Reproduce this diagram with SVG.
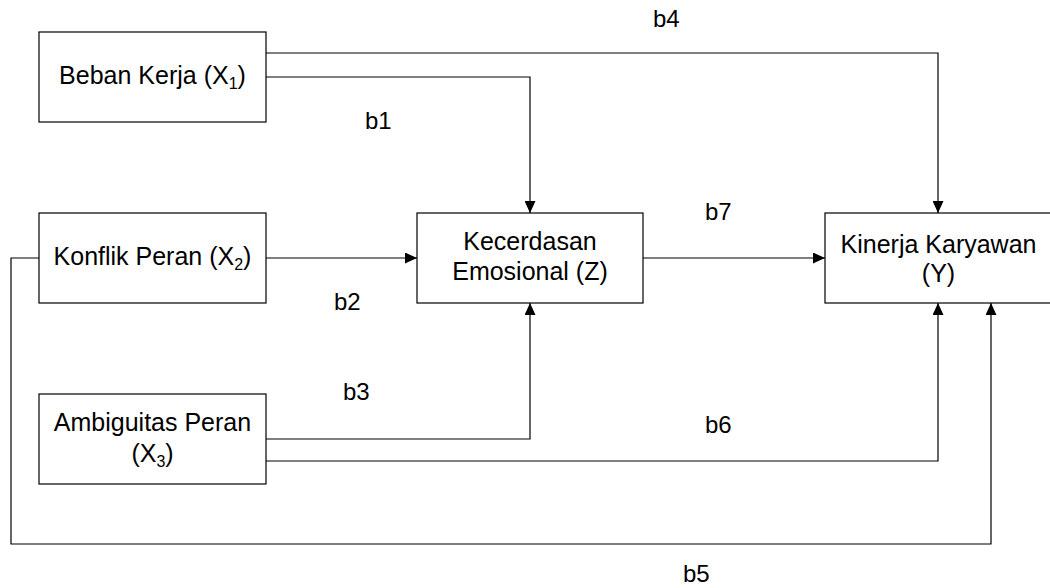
<svg xmlns="http://www.w3.org/2000/svg" width="1050" height="588" viewBox="0 0 1050 588">
  <style>
    .box { fill: #ffffff; stroke: #000000; stroke-width: 1.2; }
    .node-text { font-family: "Liberation Sans", Arial, sans-serif; font-size: 25px; fill: #000000; text-anchor: middle; }
    .sub { font-size: 16px; }
    .edge { fill: none; stroke: #000000; stroke-width: 1.2; marker-end: url(#arrow); }
    .label { font-family: "Liberation Sans", Arial, sans-serif; font-size: 24px; fill: #000000; }
  </style>
  <defs>
    <marker id="arrow" markerUnits="userSpaceOnUse" markerWidth="12" markerHeight="11" refX="12" refY="5.5" orient="auto">
      <path d="M0,0 L12,5.5 L0,11 z" fill="#000000"/>
    </marker>
  </defs>
  <rect width="1050" height="588" fill="#ffffff"/>

  <!-- connectors -->
  <g id="connectors">
    <path class="edge" d="M266,53 H938 V213"/>
    <path class="edge" d="M266,77 H530 V213"/>
    <path class="edge" d="M266,258 H417"/>
    <path class="edge" d="M39,258 H11 V544 H991 V303"/>
    <path class="edge" d="M266,439 H530 V303"/>
    <path class="edge" d="M266,461 H938 V303"/>
    <path class="edge" d="M643,258 H825"/>
  </g>

  <!-- path coefficient labels -->
  <g id="labels">
    <text class="label" x="653" y="27">b4</text>
    <text class="label" x="365" y="129">b1</text>
    <text class="label" x="705" y="220">b7</text>
    <text class="label" x="334" y="310">b2</text>
    <text class="label" x="343" y="400">b3</text>
    <text class="label" x="705" y="433">b6</text>
    <text class="label" x="683" y="582">b5</text>
  </g>

  <!-- nodes -->
  <g id="node-x1">
    <rect class="box" x="39" y="32" width="227" height="90"/>
    <text class="node-text" x="152.5" y="84">Beban Kerja (X<tspan class="sub" dy="5">1</tspan><tspan dy="-5">)</tspan></text>
  </g>
  <g id="node-x2">
    <rect class="box" x="39" y="213" width="227" height="90"/>
    <text class="node-text" x="152.5" y="265">Konflik Peran (X<tspan class="sub" dy="5">2</tspan><tspan dy="-5">)</tspan></text>
  </g>
  <g id="node-x3">
    <rect class="box" x="39" y="394" width="227" height="90"/>
    <text class="node-text" x="152.5" y="431">Ambiguitas Peran</text>
    <text class="node-text" x="152.5" y="462">(X<tspan class="sub" dy="5">3</tspan><tspan dy="-5">)</tspan></text>
  </g>
  <g id="node-z">
    <rect class="box" x="417" y="213" width="226" height="90"/>
    <text class="node-text" x="530" y="250">Kecerdasan</text>
    <text class="node-text" x="530" y="280">Emosional (Z)</text>
  </g>
  <g id="node-y">
    <rect class="box" x="825" y="213" width="227" height="90"/>
    <text class="node-text" x="938.5" y="253">Kinerja Karyawan</text>
    <text class="node-text" x="938.5" y="282">(Y)</text>
  </g>
</svg>
